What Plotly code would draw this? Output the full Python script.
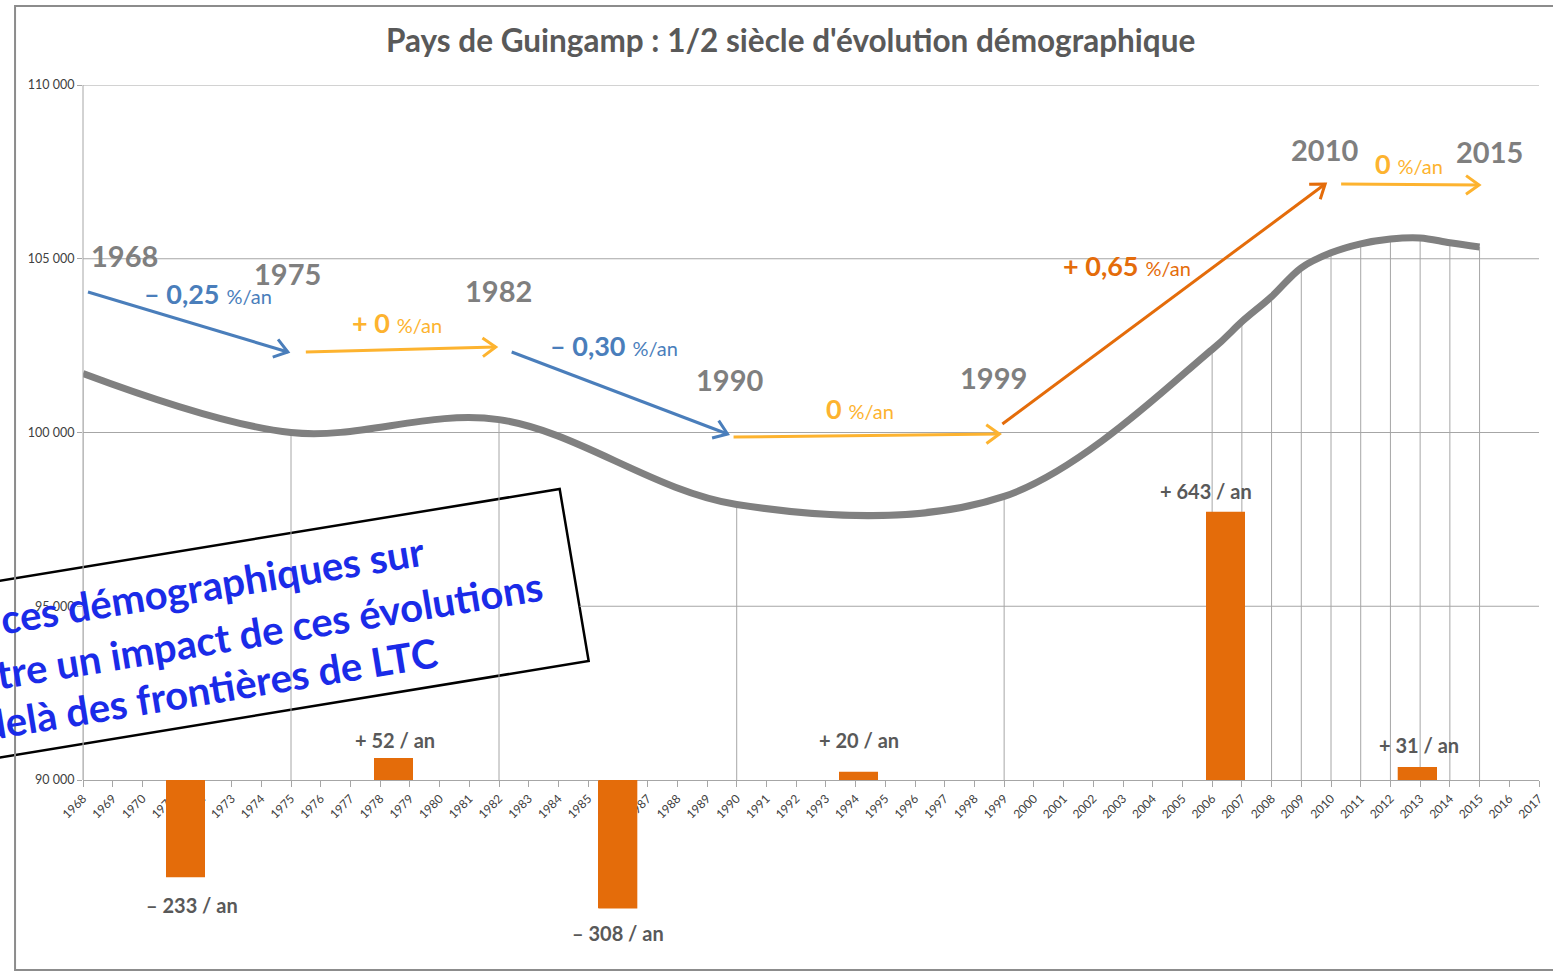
import math
import plotly.graph_objects as go

# ---------------- data ----------------
census_years = [1968, 1975, 1982, 1990, 1999, 2006, 2007, 2008, 2009, 2010, 2011, 2012, 2013, 2014, 2015]
population = [101700, 100000, 100370, 97930, 98160, 102390, 103190, 103910, 104740, 105170,
              105430, 105570, 105600, 105460, 105340]

bar_years = [1971.45, 1978.45, 1986.0, 1994.1, 2006.45, 2012.9]
bar_values = [-233, 52, -308, 20, 643, 31]
bar_labels = ["– 233 / an", "+ 52 / an", "– 308 / an", "+ 20 / an", "+ 643 / an", "+ 31 / an"]
BAR_WIDTH = 1.31

x_years = list(range(1968, 2018))
y_ticks = [90000, 95000, 100000, 105000, 110000]
y_tick_labels = ["90 000", "95 000", "100 000", "105 000", "110 000"]

period_years = ["1968", "1975", "1982", "1990", "1999", "2010", "2015"]
rate_main = ["– 0,25", "+ 0", "– 0,30", "0", "+ 0,65", "0"]

title = "Pays de Guingamp : 1/2 siècle d'évolution démographique"
box_lines = ["ces démographiques sur", "tre un impact de ces évolutions", "delà des frontières de LTC"]

# ---------------- layout geometry ----------------
W, H = 1553, 973
KX = 1 / 0.9964                    # small horizontal compensation observed in the rendering
L = round(83 * KX, 2)
R = round(W - 1540 * KX, 2)
T, B = 85, 58
PW, PH = W - L - R, H - T - B
PX_PER_5000 = 173.75
Y_TOP = 110000
Y_BOT = Y_TOP - PH / PX_PER_5000 * 5000
AXIS_PX = 780                      # pixel row of the 90 000 level (category axis)
BAR_PX_PER_UNIT = 0.417


def px(x):
    return (x * KX - L) / PW


def py(y):
    return (H - B - y) / PH


FONT = "Lato"
BLUE = "#4A7EBB"
YELLOW = "#FDB32F"
ORANGE = "#E46C0A"
GREY_TXT = "#7F7F7F"
GRID = "#A6A6A6"

fig = go.Figure()

# drop lines from each census point down to the axis
dx, dy = [], []
for yr, p in zip(census_years, population):
    dx += [yr, yr, None]
    dy += [p, 90000, None]
fig.add_trace(go.Scatter(x=dx, y=dy, mode="lines", line=dict(color=GRID, width=1),
                         hoverinfo="skip", showlegend=False))

# population curve
fig.add_trace(go.Scatter(x=census_years, y=population, mode="lines",
                         line=dict(color="#808080", width=7, shape="spline", smoothing=1.0),
                         showlegend=False))

# yearly balance bars (secondary scale)
fig.add_trace(go.Bar(x=bar_years, y=bar_values, width=BAR_WIDTH, yaxis="y2",
                     marker=dict(color=ORANGE, line=dict(width=0)), showlegend=False))

shapes = []

# rotated message box (drawn beneath everything)
ang = math.radians(9.3)
tr = (560, 489)
br = (589, 661)
xl = -60
tl = (xl, tr[1] + (tr[0] - xl) * math.tan(ang))
bl = (xl, br[1] + (br[0] - xl) * math.tan(ang))
path = "M {} {} L {} {} L {} {} L {} {} Z".format(px(tl[0]), py(tl[1]), px(tr[0]), py(tr[1]),
                                                  px(br[0]), py(br[1]), px(bl[0]), py(bl[1]))
shapes.append(dict(type="path", path=path, xref="paper", yref="paper", layer="below",
                   fillcolor="white", line=dict(color="black", width=2.5)))

# horizontal gridlines
for v in [100000, 105000, 110000]:
    shapes.append(dict(type="line", xref="paper", yref="y", x0=0, x1=1, y0=v, y1=v,
                       layer="below", line=dict(color=GRID, width=1)))
shapes.append(dict(type="line", xref="paper", yref="y", x0=px(580), x1=1, y0=95000, y1=95000,
                   layer="below", line=dict(color=GRID, width=1)))
# value axis line
shapes.append(dict(type="line", xref="paper", yref="y", x0=0, x1=0, y0=90000, y1=110000,
                   layer="above", line=dict(color=GRID, width=1)))

# bars repeated on top so they hide the category labels they cross (as in the original)
for bx, bv in zip(bar_years, bar_values):
    shapes.append(dict(type="rect", xref="x", yref="y2", x0=bx - BAR_WIDTH / 2, x1=bx + BAR_WIDTH / 2,
                       y0=0, y1=bv, fillcolor=ORANGE, line=dict(width=0), layer="above"))

# chart frame
shapes.append(dict(type="rect", xref="paper", yref="paper", x0=px(15), x1=px(1570), y0=py(970), y1=py(6),
                   layer="above", line=dict(color="#8C8C8C", width=2)))


def arrow(x0, y0, x1, y1, color, width=3, head=16, spread=0.62):
    a = math.atan2(y1 - y0, x1 - x0)
    pts = []
    for s in (1, -1):
        b = a + math.pi + s * spread
        pts.append((x1 + head * math.cos(b), y1 + head * math.sin(b)))
    shapes.append(dict(type="line", xref="paper", yref="paper", x0=px(x0), y0=py(y0),
                       x1=px(x1), y1=py(y1), line=dict(color=color, width=width), layer="above"))
    p = "M {} {} L {} {} L {} {}".format(px(pts[0][0]), py(pts[0][1]), px(x1), py(y1),
                                         px(pts[1][0]), py(pts[1][1]))
    shapes.append(dict(type="path", path=p, xref="paper", yref="paper",
                       line=dict(color=color, width=width), layer="above"))


arrow(88, 292, 288, 352, BLUE)
arrow(306, 352, 496, 347, YELLOW)
arrow(512, 352, 728, 434, BLUE)
arrow(734, 437, 1000, 434, YELLOW)
arrow(1003, 424, 1326, 184, ORANGE)
arrow(1342, 184, 1480, 185, YELLOW)

ann = []


def text(x, y, t, size, color, bold=False, angle=0, anchor="center"):
    ann.append(dict(xref="paper", yref="paper", x=px(x), y=py(y), text=("<b>%s</b>" % t) if bold else t,
                    showarrow=False, xanchor=anchor, yanchor="middle", textangle=angle,
                    font=dict(family=FONT, size=size, color=color)))


# title
text(791, 40, title, 31.5, "#595959", bold=True)

# period years
year_pos = [(125, 255), (288, 273), (499, 290), (730, 379), (994, 377), (1325, 149), (1490, 151)]
for lab, (x, y) in zip(period_years, year_pos):
    text(x, y, lab, 29, GREY_TXT, bold=True)

# growth rates
rate_pos = [(208, 293), (397, 322), (614, 345), (861, 408), (1128, 265), (1410, 163)]
rate_col = [BLUE, YELLOW, BLUE, YELLOW, ORANGE, YELLOW]
for lab, (x, y), c in zip(rate_main, rate_pos, rate_col):
    text(x, y, "<b>%s</b> <span style='font-size:20px'>%%/an</span>" % lab, 27, c)

# bar labels
bar_pos = [(192, 905), (395, 740), (618, 933), (860, 740), (1207, 491), (1420, 745)]
for lab, (x, y) in zip(bar_labels, bar_pos):
    text(x, y, lab, 20, "#595959", bold=True)

# rotated message
box_pos = [(213, 585), (270, 630), (210, 689)]
for lab, (x, y) in zip(box_lines, box_pos):
    text(x, y, lab, 40, "#1A2BE8", bold=True, angle=-9.3)

fig.update_layout(
    width=W, height=H,
    margin=dict(l=L, r=R, t=T, b=B, pad=0),
    paper_bgcolor="white", plot_bgcolor="rgba(0,0,0,0)",
    showlegend=False, bargap=0,
    xaxis=dict(range=[1968, 2017], tickmode="array", tickvals=x_years, ticktext=[str(v) for v in x_years],
               tickangle=-45, ticks="outside", ticklen=6, tickcolor=GRID, showgrid=False, zeroline=False,
               showline=True, linecolor=GRID, linewidth=1, anchor="free", position=py(AXIS_PX),
               tickfont=dict(family=FONT, size=12, color="#404040")),
    yaxis=dict(range=[Y_BOT, Y_TOP], tickmode="array", tickvals=y_ticks, ticktext=y_tick_labels,
               ticks="outside", ticklen=5, tickcolor=GRID, showgrid=False, zeroline=False, showline=False,
               tickfont=dict(family=FONT, size=12.5, color="#404040")),
    yaxis2=dict(range=[-(H - B - AXIS_PX) / BAR_PX_PER_UNIT, (AXIS_PX - T) / BAR_PX_PER_UNIT],
                overlaying="y", visible=False),
    shapes=shapes,
    annotations=ann,
)

fig.write_html("out.html", config={"displayModeBar": False},
               post_script="document.body.style.margin='0px';document.body.style.overflow='hidden';"
                           "document.documentElement.style.overflow='hidden';")
